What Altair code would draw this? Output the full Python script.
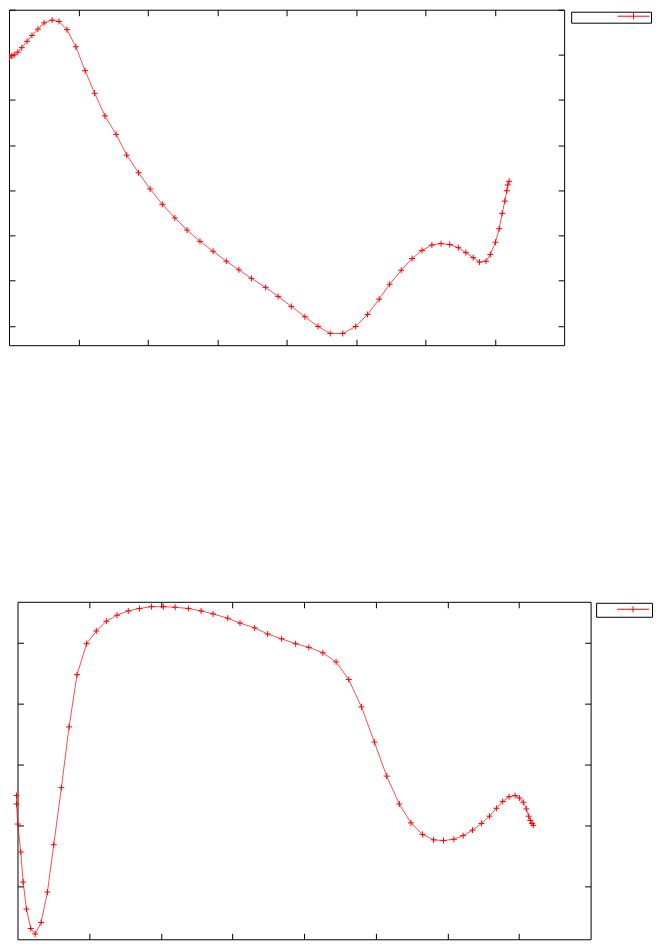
import altair as alt
import pandas as pd

# ---- top panel data ----
top_x = [0.0, 0.007, 0.041, 0.074, 0.127, 0.184, 0.260, 0.331, 0.417, 0.506,
         0.621, 0.720, 0.835, 0.963, 1.097, 1.234, 1.382, 1.544, 1.696, 1.867,
         2.033, 2.210, 2.389, 2.566, 2.752, 2.942, 3.131, 3.312, 3.494, 3.698,
         3.879, 4.068, 4.264, 4.454, 4.629, 4.810, 4.996, 5.167, 5.334, 5.485,
         5.652, 5.809, 5.952, 6.094, 6.227, 6.351, 6.475, 6.584, 6.689, 6.779,
         6.874, 6.936, 7.011, 7.064, 7.107, 7.145, 7.174, 7.188, 7.207]
top_y = [5.93, 5.95, 5.98, 6.00, 6.06, 6.16, 6.30, 6.43, 6.57, 6.71,
         6.77, 6.74, 6.56, 6.18, 5.65, 5.15, 4.65, 4.24, 3.78, 3.39,
         3.03, 2.69, 2.39, 2.12, 1.87, 1.65, 1.43, 1.24, 1.05, 0.85,
         0.65, 0.43, 0.20, -0.015, -0.17, -0.17, -0.015, 0.25, 0.59, 0.92,
         1.23, 1.49, 1.67, 1.79, 1.82, 1.80, 1.73, 1.62, 1.51, 1.41,
         1.43, 1.58, 1.85, 2.15, 2.49, 2.76, 2.99, 3.12, 3.20]

# ---- bottom panel data ----
bot_x = [-0.014, -0.014, 0.004, 0.046, 0.079, 0.125, 0.185, 0.247, 0.330, 0.418,
         0.506, 0.613, 0.720, 0.831, 0.965, 1.100, 1.240, 1.389, 1.546, 1.703,
         1.870, 2.037, 2.201, 2.386, 2.563, 2.730, 2.935, 3.106, 3.311, 3.492,
         3.687, 3.882, 4.067, 4.262, 4.447, 4.624, 4.801, 4.982, 5.153, 5.330,
         5.492, 5.655, 5.808, 5.947, 6.091, 6.221, 6.351, 6.476, 6.588, 6.685,
         6.773, 6.862, 6.946, 7.006, 7.061, 7.103, 7.135, 7.159, 7.182, 7.201]
bot_y = [1.49, 1.35, 1.02, 0.56, 0.065, -0.38, -0.70, -0.79, -0.60, -0.10,
         0.68, 1.62, 2.62, 3.48, 3.99, 4.20, 4.36, 4.46, 4.53, 4.57,
         4.60, 4.60, 4.59, 4.57, 4.53, 4.48, 4.41, 4.33, 4.25, 4.15,
         4.07, 3.99, 3.93, 3.84, 3.69, 3.40, 2.95, 2.37, 1.81, 1.35,
         1.04, 0.85, 0.76, 0.75, 0.77, 0.83, 0.92, 1.03, 1.15, 1.28,
         1.39, 1.47, 1.49, 1.45, 1.38, 1.27, 1.15, 1.08, 1.03, 1.00]

x_ticks = [1, 2, 3, 4, 5, 6, 7]
top_y_ticks = [0, 1, 2, 3, 4, 5, 6, 7]
bot_y_ticks = [0, 1, 2, 3, 4]

PLUS = "M-1,0H1M0,-1V1"
LEG_SYM = "M-1,0H1M0,-0.19V0.19"


def ax(orient, values):
    return alt.Axis(orient=orient, values=values, labels=False, domain=False,
                    grid=False, ticks=True, tickSize=6, offset=-6,
                    tickColor="black", tickWidth=1, title=None,
                    minExtent=0, maxExtent=0)


def panel(xs, ys, series, xdom, ydom, yticks, w, h, legend, clip):
    df = pd.DataFrame({"x": xs, "y": ys, "i": list(range(len(xs))), "s": series})
    xs_ = alt.Scale(domain=xdom, nice=False, zero=False)
    ys_ = alt.Scale(domain=ydom, nice=False, zero=False)
    base = alt.Chart(df)
    line = base.mark_line(color="red", strokeWidth=1, opacity=0.7, clip=clip).encode(
        x=alt.X("x:Q", scale=xs_, axis=ax("bottom", x_ticks)),
        y=alt.Y("y:Q", scale=ys_, axis=ax("left", yticks)),
        order="i:Q",
    )
    pts = base.mark_point(shape=PLUS, filled=False, size=36, strokeWidth=1, opacity=1,
                          clip=clip).encode(
        x=alt.X("x:Q", scale=xs_, axis=ax("top", x_ticks)),
        y=alt.Y("y:Q", scale=ys_, axis=ax("right", yticks)),
        color=alt.Color("s:N", scale=alt.Scale(range=["red"]), legend=legend),
    )
    return alt.layer(line, pts).resolve_axis(x="independent", y="independent").properties(
        width=w, height=h)


top_legend = alt.Legend(orient="none", legendX=563, legendY=2, padding=1,
                        strokeColor="black", symbolType=LEG_SYM, symbolSize=1024,
                        symbolOffset=45, clipHeight=7, labelExpr="''", labelOffset=0,
                        title=None, symbolStrokeWidth=1, symbolStrokeColor="red")
bot_legend = alt.Legend(orient="none", legendX=588, legendY=1, padding=2.5,
                        strokeColor="black", symbolType=LEG_SYM, symbolSize=1024,
                        symbolOffset=18, clipHeight=8, labelExpr="''", labelOffset=0,
                        title=None, symbolStrokeWidth=1, symbolStrokeColor="red")

top = panel(top_x, top_y, "a", [0, 8], [-0.43, 7.0], top_y_ticks, 556, 336,
            top_legend, True)
bottom = panel(bot_x, bot_y, "b", [0, 8], [-0.877, 4.68], bot_y_ticks, 574, 338,
               bot_legend, False)

spacer = alt.Chart(alt.Data(values=[])).mark_point().encode(
    x=alt.X("v:Q", axis=None), y=alt.Y("v:Q", axis=None)
).properties(width=1, height=1, view=alt.ViewBackground(strokeOpacity=0))

chart = alt.vconcat(
    top, alt.hconcat(spacer, bottom, spacing=7.5, bounds="flush"),
    spacing=257, bounds="flush"
).resolve_scale(color="independent").resolve_legend(color="independent").properties(
    padding={"left": 0, "top": 0, "right": 0, "bottom": 0}
).configure_view(stroke="black", strokeWidth=1)

chart.save("out.html", embed_options={"renderer": "svg", "actions": False})
